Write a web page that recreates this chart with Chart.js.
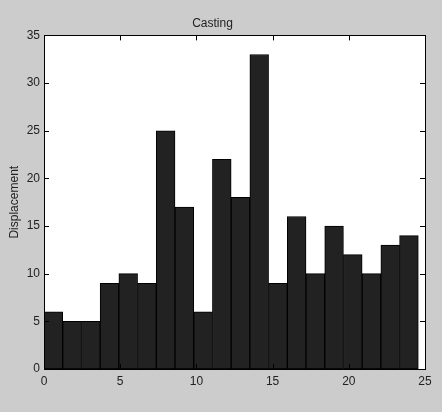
<!DOCTYPE html>
<html>
<head>
<meta charset="utf-8">
<script src="https://cdn.jsdelivr.net/npm/chart.js@4.4.1/dist/chart.umd.min.js"></script>
<style>
  body { margin: 0; background: #cccccc; }
  canvas { display: block; }
</style>
</head>
<body>
<canvas id="castingChart" width="442" height="412"></canvas>
<script>
// histogram bins (20 bins, width ~1.228)
const binWidth = 1.228;
const counts = [6, 5, 5, 9, 10, 9, 25, 17, 6, 22, 18, 33, 9, 16, 10, 15, 12, 10, 13, 14];
const xTicks = [0, 5, 10, 15, 20, 25];
const yTicks = [0, 5, 10, 15, 20, 25, 30, 35];

const points = counts.map((c, i) => ({ x: (i + 0.5) * binWidth, y: c }));

// gray page, white plot box, frame and inward ticks on all sides
const framePlugin = {
  id: "frame",
  beforeDraw(chart) {
    const { ctx, chartArea: a } = chart;
    ctx.save();
    ctx.fillStyle = "#cccccc";
    ctx.fillRect(0, 0, chart.width, chart.height);
    ctx.fillStyle = "#ffffff";
    ctx.fillRect(a.left, a.top, a.right - a.left, a.bottom - a.top);
    ctx.restore();
  },
  afterDraw(chart) {
    const { ctx, chartArea: a } = chart;
    const xs = chart.scales.x, ys = chart.scales.y;
    const len = 5;
    ctx.save();
    ctx.strokeStyle = "#000000";
    ctx.lineWidth = 1;
    ctx.beginPath();
    xTicks.forEach((t) => {
      const px = Math.round(xs.getPixelForValue(t)) + 0.5;
      ctx.moveTo(px, a.top);
      ctx.lineTo(px, a.top + len);
      ctx.moveTo(px, a.bottom);
      ctx.lineTo(px, a.bottom - len);
    });
    yTicks.forEach((t) => {
      const py = Math.round(ys.getPixelForValue(t)) + 0.5;
      ctx.moveTo(a.left, py);
      ctx.lineTo(a.left + len, py);
      ctx.moveTo(a.right, py);
      ctx.lineTo(a.right - len, py);
    });
    ctx.stroke();
    ctx.strokeRect(Math.round(a.left) + 0.5, Math.round(a.top) + 0.5,
      Math.round(a.right - a.left), Math.round(a.bottom - a.top));
    ctx.restore();
  },
};

const ctx = document.getElementById("castingChart").getContext("2d");
const castingChart = new Chart(ctx, {
  type: "bar",
  data: {
    datasets: [
      {
        label: "Casting",
        data: points,
        backgroundColor: "#222222",
        borderColor: "#000000",
        borderWidth: 1,
        borderSkipped: false,
        barPercentage: 1,
        categoryPercentage: 1,
      },
    ],
  },
  options: {
    responsive: false,
    animation: false,
    layout: { padding: { left: 0, right: 17, top: 0, bottom: 0 } },
    plugins: {
      legend: { display: false },
      tooltip: { enabled: false },
      title: {
        display: true,
        text: "Casting",
        color: "#222222",
        font: { family: "Liberation Sans, Arial, sans-serif", size: 12, weight: "normal" },
        padding: { top: 16, bottom: 5 },
      },
    },
    scales: {
      x: {
        type: "linear",
        offset: false,
        min: 0,
        max: 25,
        afterBuildTicks: (scale) => { scale.ticks = xTicks.map((v) => ({ value: v })); },
        afterFit: (scale) => { scale.height = 43; },
        grid: { display: false, drawTicks: false },
        border: { display: false },
        ticks: {
          color: "#222222",
          padding: 5,
          maxRotation: 0,
          font: { family: "Liberation Sans, Arial, sans-serif", size: 12 },
        },
      },
      y: {
        min: 0,
        max: 35,
        afterBuildTicks: (scale) => { scale.ticks = yTicks.map((v) => ({ value: v })); },
        afterFit: (scale) => { scale.width = 44; },
        grid: { display: false, drawTicks: false },
        border: { display: false },
        title: {
          display: true,
          text: "Displacement",
          color: "#222222",
          padding: { top: 7, bottom: 0 },
          font: { family: "Liberation Sans, Arial, sans-serif", size: 12 },
        },
        ticks: {
          color: "#222222",
          padding: 4,
          font: { family: "Liberation Sans, Arial, sans-serif", size: 12 },
        },
      },
    },
  },
  plugins: [framePlugin],
});
</script>
</body>
</html>
